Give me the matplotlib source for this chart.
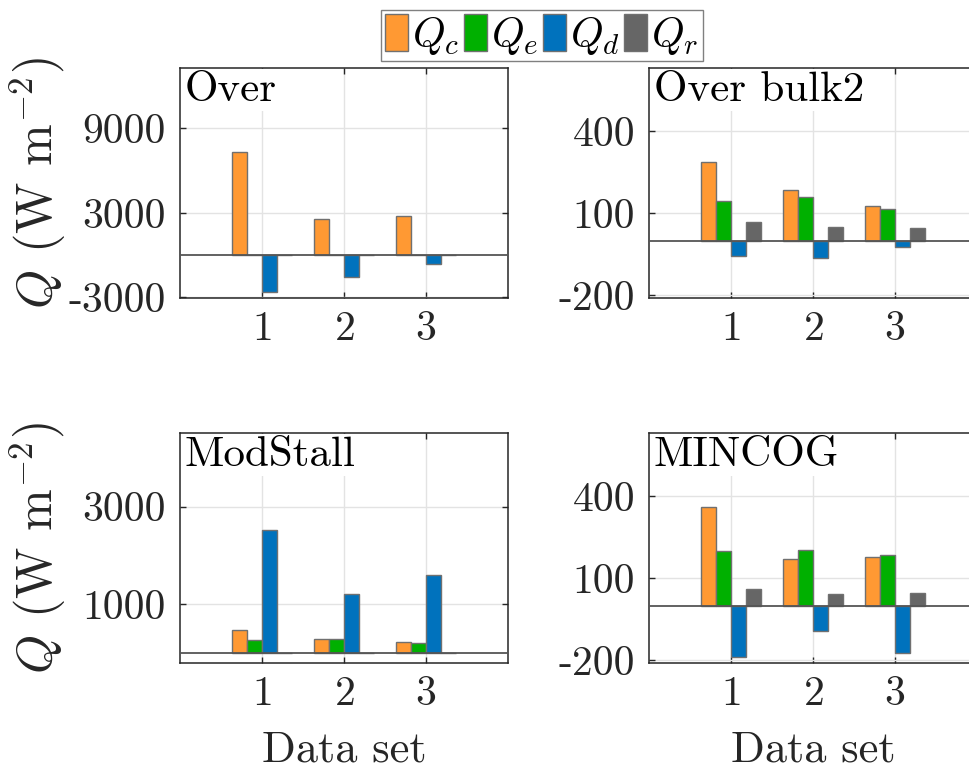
import numpy as np
import matplotlib
matplotlib.use('Agg')
import matplotlib.pyplot as plt
from matplotlib.patches import Patch

plt.rcParams['font.family'] = 'serif'
plt.rcParams['font.serif'] = ['cmr10']
plt.rcParams['mathtext.fontset'] = 'cm'
plt.rcParams['axes.unicode_minus'] = False
plt.rcParams['axes.formatter.use_mathtext'] = True

# heat flux components per data set (W m^-2)
data_sets = [1, 2, 3]
series_names = [r'$Q_c$', r'$Q_e$', r'$Q_d$', r'$Q_r$']
series_colors = ['#FF9933', '#00B000', '#0072BD', '#666666']

over_qc = [7350, 2550, 2790]
over_qe = [40, 30, 30]
over_qd = [-2590, -1570, -600]
over_qr = [10, 10, 10]

bulk2_qc = [285, 183, 126]
bulk2_qe = [143, 159, 114]
bulk2_qd = [-58, -64, -25]
bulk2_qr = [68, 50, 46]

modstall_qc = [458, 281, 220]
modstall_qe = [267, 281, 205]
modstall_qd = [2513, 1206, 1588]
modstall_qr = [5, 5, 5]

mincog_qc = [360, 171, 177]
mincog_qe = [200, 203, 186]
mincog_qd = [-187, -94, -174]
mincog_qr = [60, 43, 44]

panels = [
    ('Over', [over_qc, over_qe, over_qd, over_qr], (-3050, 13300), [-3000, 3000, 9000]),
    ('Over bulk2', [bulk2_qc, bulk2_qe, bulk2_qd, bulk2_qr], (-210, 630), [-200, 100, 400]),
    ('ModStall', [modstall_qc, modstall_qe, modstall_qd, modstall_qr], (-210, 4510), [1000, 3000]),
    ('MINCOG', [mincog_qc, mincog_qe, mincog_qd, mincog_qr], (-210, 630), [-200, 100, 400]),
]

W, H = 970, 769
fig = plt.figure(figsize=(W / 100, H / 100), dpi=100)

# axes boxes in pixels: left, top, right, bottom
boxes = [(180, 68, 508, 298), (649, 68, 977, 298),
         (180, 433, 508, 663), (649, 433, 977, 663)]

group_width = 4 / 5.5
bar_w = group_width / 4
offsets = (np.arange(4) - 1.5) * bar_w
x = np.array(data_sets, dtype=float)

tick_fs = 30
for i, ((name, series, ylim, yticks), (l, t, r, b)) in enumerate(zip(panels, boxes)):
    ax = fig.add_axes([l / W, 1 - b / H, (r - l) / W, (b - t) / H])
    for vals, off, col in zip(series, offsets, series_colors):
        ax.bar(x + off, vals, width=bar_w, color=col, edgecolor='#707070',
               linewidth=1.0, zorder=3)
    ax.axhline(0, color='#555555', lw=1.3, zorder=4)
    ax.set_xlim(0, 4)
    ax.set_ylim(*ylim)
    ax.set_xticks(data_sets)
    ax.set_yticks(yticks)
    ax.set_yticklabels([str(v) for v in yticks])
    ax.grid(True, color='#e3e3e3', lw=1.0, zorder=0)
    ax.set_axisbelow(True)
    ax.tick_params(direction='in', length=4, width=1, colors='#262626',
                   labelsize=tick_fs, top=True, right=True)
    ax.tick_params(axis='x', pad=9)
    ax.tick_params(axis='y', pad=10)
    for sp in ax.spines.values():
        sp.set_color('#262626')
        sp.set_linewidth(1.1)
    ax.text(0.015, 0.985, name, transform=ax.transAxes, ha='left', va='top',
            fontsize=31, color='black', zorder=6,
            bbox=dict(facecolor='white', edgecolor='none', pad=2))
    if i % 2 == 0:
        fig.text(38 / W, 1 - (t + b) / 2 / H, r'$Q$ (W m$^{-2}$)', rotation=90,
                 ha='center', va='center', fontsize=36, color='#262626')
    if i >= 2:
        fig.text((l + r) / 2 / W, 1 - 761 / H, 'Data set', ha='center',
                 va='baseline', fontsize=32, color='#262626')

handles = [Patch(facecolor=c, edgecolor='#707070', lw=1.0) for c in series_colors]
fig.legend(handles, series_names, loc='upper center', ncol=4,
           bbox_to_anchor=(542 / W, 1 - 10 / H), fontsize=30,
           handlelength=0.55, handleheight=1.0, handletextpad=0.1,
           columnspacing=0.1, borderpad=0.1, borderaxespad=0,
           fancybox=False, edgecolor='#808080', framealpha=1)

fig.savefig('out.png', dpi=100)
